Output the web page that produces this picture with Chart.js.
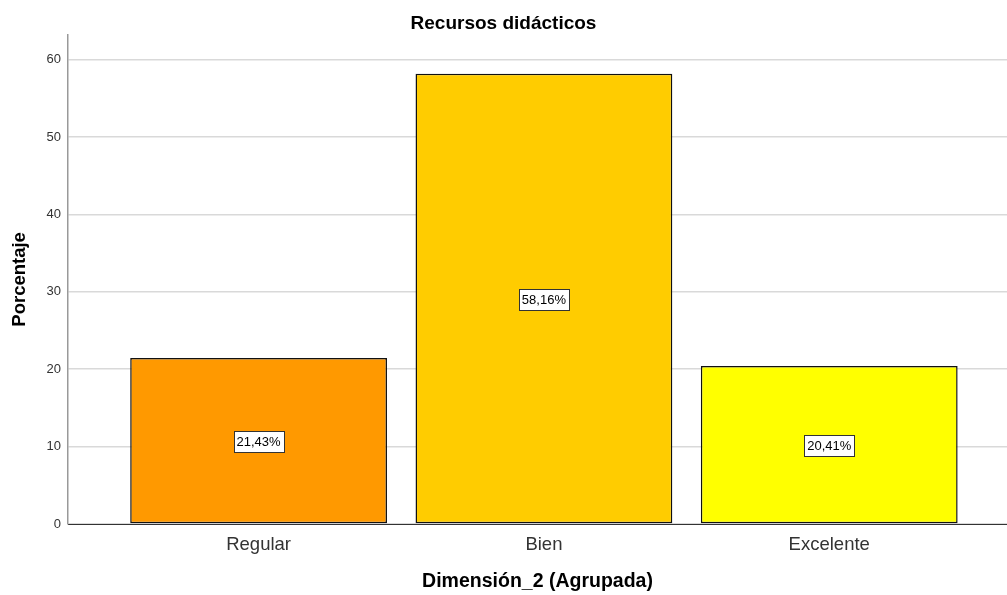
<!DOCTYPE html>
<html>
<head>
<meta charset="utf-8">
<script src="https://cdn.jsdelivr.net/npm/chart.js@4/dist/chart.umd.min.js"></script>
<style>
  html, body { margin: 0; padding: 0; background: #ffffff; }
  #wrap { width: 1007px; height: 595px; position: relative; }
</style>
</head>
<body>
<div id="wrap"><canvas id="c" width="1007" height="595"></canvas></div>
<script>
const categories = ['Regular', 'Bien', 'Excelente'];
const values = [21.43, 58.16, 20.41];
const barColors = ['#FF9900', '#FFCC00', '#FFFF00'];
const yTicks = [0, 10, 20, 30, 40, 50, 60];

const FONT = '"Liberation Sans", Arial, sans-serif';

const labelPlugin = {
  id: 'boxLabels',
  afterDatasetsDraw(chart) {
    const ctx = chart.ctx;
    const meta = chart.getDatasetMeta(0);
    ctx.save();
    ctx.font = '13px ' + FONT;
    ctx.textAlign = 'center';
    ctx.textBaseline = 'middle';
    meta.data.forEach((bar, i) => {
      const txt = values[i].toFixed(2).replace('.', ',') + '%';
      const cx = bar.x;
      const cy = (bar.y + bar.base) / 2 + 1;
      const w = Math.round(ctx.measureText(txt).width + 6);
      const h = 21;
      const x0 = Math.round(cx - w / 2) + 0.5;
      const y0 = Math.round(cy - h / 2) + 0.5;
      ctx.fillStyle = '#ffffff';
      ctx.fillRect(x0, y0, w, h);
      ctx.strokeStyle = '#333333';
      ctx.lineWidth = 1;
      ctx.strokeRect(x0, y0, w, h);
      ctx.fillStyle = '#000000';
      ctx.fillText(txt, cx, cy + 1);
    });
    ctx.restore();
  }
};

new Chart(document.getElementById('c'), {
  type: 'bar',
  data: {
    datasets: [{
      data: categories.map((c, i) => ({ x: i, y: values[i] })),
      backgroundColor: barColors,
      borderColor: '#111111',
      borderWidth: 1.5,
      borderSkipped: false,
      categoryPercentage: 1,
      barPercentage: 0.9
    }]
  },
  options: {
    responsive: false,
    animation: false,
    devicePixelRatio: 1,
    layout: { padding: { left: 0, right: 0, top: 0, bottom: 0 } },
    plugins: {
      legend: { display: false },
      tooltip: { enabled: false },
      title: {
        display: true,
        text: 'Recursos didácticos',
        color: '#000000',
        font: { family: FONT, size: 19, weight: 'bold' },
        padding: { top: 12, bottom: 0 }
      }
    },
    scales: {
      x: {
        type: 'linear',
        offset: false,
        min: -0.668,
        max: 2.623,
        afterBuildTicks: (scale) => { scale.ticks = categories.map((c, i) => ({ value: i })); },
        afterFit: (scale) => { scale.height = 71; },
        grid: { display: false, drawTicks: false },
        border: { display: true, color: '#333333', width: 1 },
        ticks: {
          color: '#333333',
          padding: 10,
          font: { family: FONT, size: 18.5 },
          callback: (v) => categories[v]
        },
        title: {
          display: true,
          text: 'Dimensión_2 (Agrupada)',
          color: '#000000',
          font: { family: FONT, size: 19.5, weight: 'bold' },
          padding: { top: 4, bottom: 2 }
        }
      },
      y: {
        min: 0,
        max: 63.2,
        afterBuildTicks: (scale) => { scale.ticks = yTicks.map(v => ({ value: v })); },
        afterFit: (scale) => { scale.width = 68; },
        grid: { color: '#d9d9d9', lineWidth: 1.5, drawTicks: false },
        border: { display: true, color: '#999999', width: 1.5 },
        ticks: {
          color: '#333333',
          padding: 7,
          font: { family: FONT, size: 13 }
        },
        title: {
          display: true,
          text: 'Porcentaje',
          color: '#000000',
          font: { family: FONT, size: 18.5, weight: 'bold' },
          padding: { top: 9, bottom: 0 }
        }
      }
    }
  },
  plugins: [labelPlugin]
});
</script>
</body>
</html>
